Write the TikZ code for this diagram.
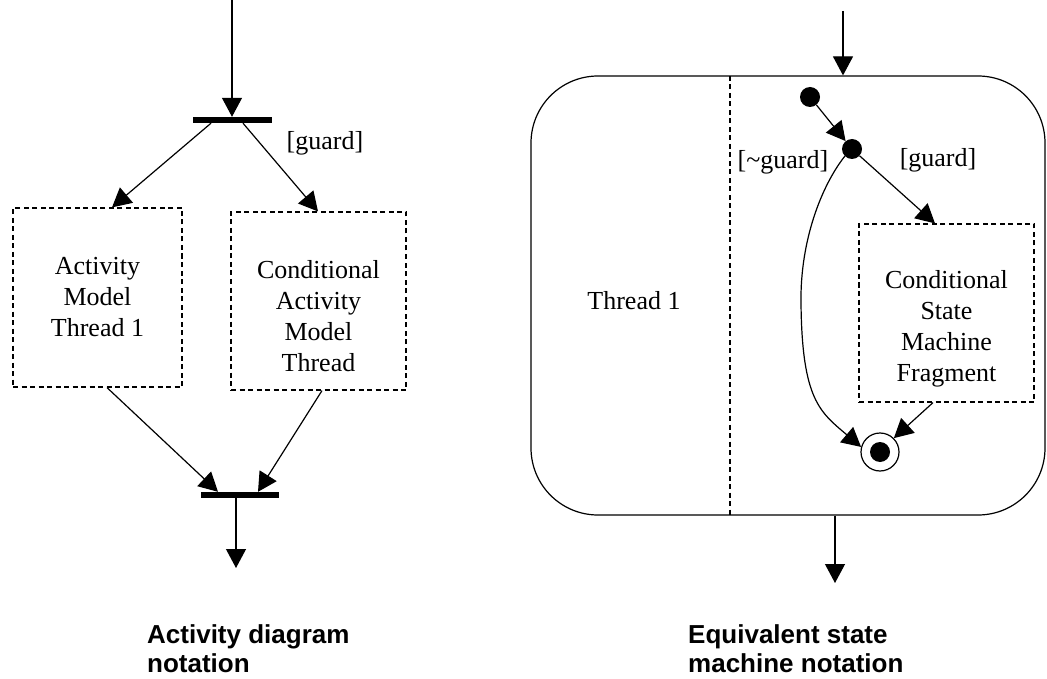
\documentclass[tikz,border=0pt]{standalone}
\usepackage{fontspec}
\setmainfont{Liberation Serif}
\newfontfamily\headfont{Liberation Sans}
\usetikzlibrary{arrows.meta}
\tikzset{
  flow/.style={line width=1.2pt, -{Triangle[length=19pt,width=20pt]}},
  bar/.style={fill=black, inner sep=0pt, minimum width=79pt, minimum height=6pt},
  thread/.style={draw, line width=1.2pt, dash pattern=on 5pt off 3.5pt, inner sep=0pt},
  lane/.style={line width=1.2pt, dash pattern=on 5pt off 3.5pt},
  lbl/.style={font=\fontsize{26}{31}\selectfont, align=center, inner sep=0pt},
  dot/.style={circle, fill=black, inner sep=0pt, minimum size=20pt},
  caption/.style={font=\headfont\bfseries\fontsize{26}{29}\selectfont, align=left, inner sep=0pt, anchor=north west}
}
\begin{document}
\begin{tikzpicture}[x=1pt, y=-1pt]
  \useasboundingbox (0,0) rectangle (1047,679);

  % Activity diagram
  \coordinate (inL) at (232,0);
  \node[bar] (forkBar) at (232.5,120) {};
  \node[thread, minimum width=169, minimum height=179] (actBox) at (97.5,297.5) {};
  \node[lbl] (actTxt) at (97.5,297.5) {Activity\\Model\\Thread 1};
  \node[thread, minimum width=175, minimum height=178] (condBox) at (318.5,301) {};
  \node[lbl] (condTxt) at (318.5,316) {Conditional\\Activity\\Model\\Thread};
  \node[lbl] (guardL) at (325,143) {[guard]};
  \node[bar, minimum width=78] (joinBar) at (240,495) {};
  \coordinate (outL) at (236,568);

  \draw[flow] (inL) -- (inL |- forkBar.north);
  \draw[flow] ([xshift=-21.5]forkBar.south) -- ([xshift=14.5]actBox.north);
  \draw[flow] ([xshift=10.5]forkBar.south) -- ([xshift=-0.5]condBox.north);
  \draw[flow] ([xshift=9.5]actBox.south) -- ([xshift=-22]joinBar.north);
  \draw[flow] ([xshift=3.5]condBox.south) -- ([xshift=18]joinBar.north);
  \draw[flow] ([xshift=-4]joinBar.south) -- (outL);

  \node[caption] (actCap) at (147,624) {Activity diagram\\notation};

  % Equivalent state machine
  \node[draw, line width=1.2pt, rounded corners=67pt, minimum width=514, minimum height=439] (smBox) at (788,295.5) {};
  \draw[lane] (730,76) -- (730,515);
  \node[lbl] (threadTxt) at (634,301) {Thread 1};

  \coordinate (inR) at (843,11);
  \node[dot] (initSt) at (810,97) {};
  \node[dot] (choice) at (852,149) {};
  \node[lbl] (notGuard) at (783,162) {[\textasciitilde guard]};
  \node[lbl] (guardR) at (938,160) {[guard]};
  \node[thread, minimum width=175, minimum height=178] (fragBox) at (946.5,313) {};
  \node[lbl] (fragTxt) at (946.5,328.5) {Conditional\\State\\Machine\\Fragment};
  \node[circle, draw, line width=1.2pt, minimum size=38pt, inner sep=0pt] (finalSt) at (880,452) {};
  \node[dot] (finalDot) at (finalSt) {};
  \coordinate (outR) at (835,583);

  \draw[flow] (inR) -- (inR |- smBox.north);
  \draw[flow] (initSt) -- (choice);
  \draw[flow] (choice) -- ([xshift=-11.5]fragBox.north);
  \draw[flow] (choice.225) .. controls (822,185) and (800,240) .. (801,303)
              .. controls (802,400) and (820,412) .. (finalSt.165);
  \draw[flow] ([xshift=-13.5]fragBox.south) -- (finalSt.45);
  \draw[flow] (outR |- smBox.south) -- (outR);

  \node[caption] (smCap) at (688,624) {Equivalent state\\machine notation};
\end{tikzpicture}
\end{document}
